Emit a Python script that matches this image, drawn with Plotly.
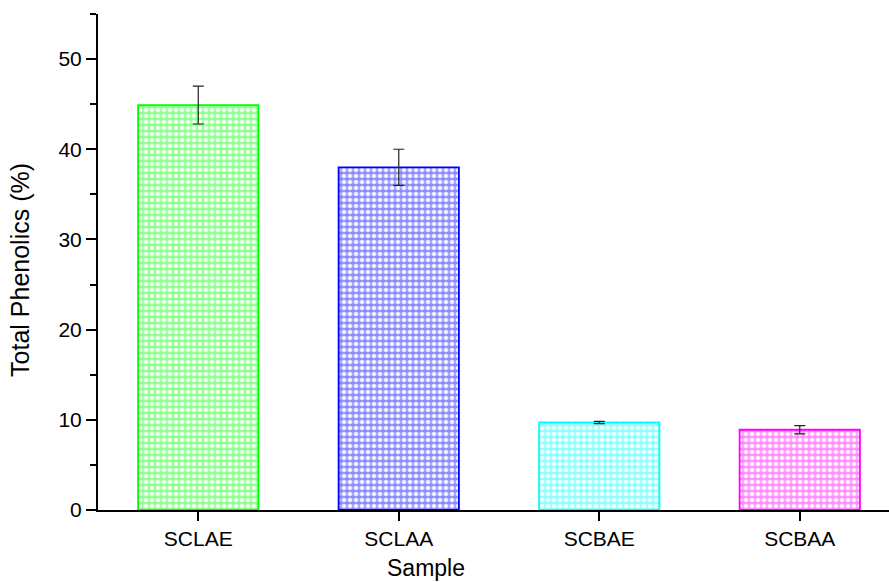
import plotly.graph_objects as go

categories = ["SCLAE", "SCLAA", "SCBAE", "SCBAA"]
values = [44.9, 38.0, 9.7, 8.9]
errors = [2.1, 2.0, 0.12, 0.45]
colors = ["#00ff00", "#0000ff", "#00ffff", "#ff00ff"]
light_colors = ["rgba(0,255,0,0.45)", "rgba(0,0,255,0.45)", "rgba(0,255,255,0.45)", "rgba(255,0,255,0.45)"]

fig = go.Figure()
# fine light grid underneath
fig.add_trace(go.Bar(
    x=categories, y=values, width=0.6,
    marker=dict(
        color="white",
        line=dict(color=colors, width=0),
        pattern=dict(shape="+", fgcolor=light_colors, bgcolor="white", size=3, solidity=0.35),
    ),
    hoverinfo="skip",
))
# main grid with outline and error bars
fig.add_trace(go.Bar(
    x=categories, y=values, width=0.6,
    marker=dict(
        color="rgba(0,0,0,0)",
        line=dict(color=colors, width=1.8),
        pattern=dict(shape="+", fgcolor=colors, fillmode="overlay", size=6, solidity=0.38),
    ),
    error_y=dict(type="data", array=errors, visible=True, color="#222222", thickness=1.2, width=5.5),
))

fig.update_layout(
    width=889, height=582,
    margin=dict(l=98, r=0, t=14, b=72),
    plot_bgcolor="white", paper_bgcolor="white",
    showlegend=False,
    barmode="overlay",
    font=dict(family="Liberation Sans, Arial, sans-serif", color="black"),
    annotations=[
        dict(text="Sample", xref="paper", yref="paper", x=0.4147, y=0, yshift=-58,
             xanchor="center", yanchor="middle", showarrow=False, font=dict(size=23)),
        dict(text="Total Phenolics (%)", xref="paper", yref="paper", x=-0.0986, y=0.484,
             xanchor="center", yanchor="middle", textangle=-90, showarrow=False, font=dict(size=25)),
    ],
)
fig.update_xaxes(
    range=[-0.5, 3.445],
    showline=True, linecolor="black", linewidth=2,
    ticks="outside", ticklen=9, tickwidth=2, tickcolor="black",
    minor=dict(ticks="outside", ticklen=5, tickwidth=1.5, tickcolor="black", dtick=1, tick0=0.5),
    tickfont=dict(size=21),
    showgrid=False, zeroline=False,
)
fig.update_yaxes(
    range=[0, 55],
    showline=True, linecolor="black", linewidth=2,
    ticks="outside", ticklen=10, tickwidth=2, tickcolor="black",
    dtick=10, tick0=0,
    minor=dict(ticks="outside", ticklen=6, tickwidth=1.5, tickcolor="black", dtick=5),
    tickfont=dict(size=21),
    showgrid=False, zeroline=False,
)

fig.write_html("out.html")
